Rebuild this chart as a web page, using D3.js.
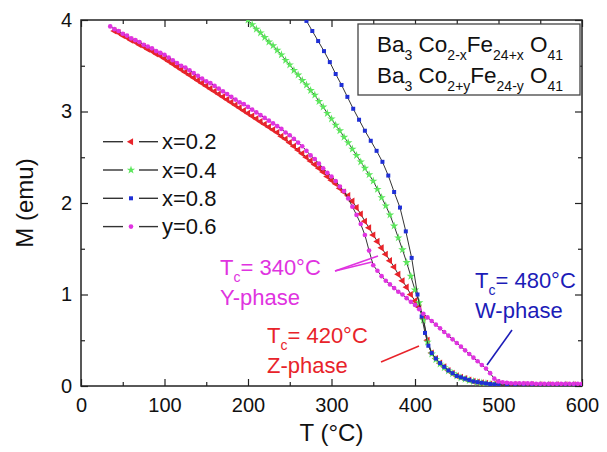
<!DOCTYPE html>
<html><head><meta charset="utf-8">
<script src="https://cdn.jsdelivr.net/npm/d3@7"></script>
<style>body{margin:0;background:#fff} svg text{font-family:"Liberation Sans",Arial,sans-serif}</style>
</head><body><svg id="c" width="607" height="452"></svg>
<script>
const xTicks=[0,100,200,300,400,500,600];
const xMinor=[50,150,250,350,450,550];
const yTicks=[0,1,2,3,4];
const yMinor=[0.5,1.5,2.5,3.5];
const seriesNames=["x=0.2","x=0.4","x=0.8","y=0.6"];
const seriesColors=["#e8232a","#5ce65c","#1f2fd6","#e033e0"];

const x02=[[40,3.88],[45,3.86],[50,3.83],[55,3.81],[60,3.78],[65,3.76],[70,3.73],[75,3.71],[80,3.68],[85,3.66],[90,3.63],[95,3.61],[100,3.58],[105,3.55],[110,3.52],[115,3.49],[120,3.46],[125,3.43],[130,3.40],[135,3.37],[140,3.34],[145,3.31],[150,3.28],[155,3.25],[160,3.22],[165,3.19],[170,3.16],[175,3.13],[180,3.10],[185,3.07],[190,3.04],[195,3.01],[200,2.98],[205,2.95],[210,2.92],[215,2.89],[220,2.86],[225,2.83],[230,2.80],[235,2.77],[240,2.73],[245,2.70],[250,2.66],[255,2.62],[260,2.58],[265,2.54],[270,2.50],[275,2.46],[280,2.42],[285,2.38],[290,2.34],[295,2.29],[300,2.25],[305,2.21],[310,2.16],[315,2.12],[320,2.08],[325,2.02],[330,1.95],[335,1.88],[340,1.80],[345,1.73],[350,1.65],[355,1.58],[360,1.51],[365,1.44],[370,1.37],[375,1.30],[380,1.22],[385,1.15],[390,1.08],[395,1.00],[400,0.93],[405,0.86],[410,0.74],[415,0.50],[420,0.36],[425,0.30],[430,0.25],[435,0.21],[440,0.17],[445,0.14],[450,0.11],[455,0.095],[460,0.08],[465,0.065],[470,0.05],[475,0.042],[480,0.035],[485,0.028],[490,0.022],[495,0.018],[500,0.015],[510,0.012],[520,0.012],[530,0.012],[540,0.012],[550,0.012],[560,0.012],[570,0.012],[580,0.012],[590,0.012],[600,0.012]];

const x04=[[200,4.00],[205,3.95],[210,3.90],[215,3.86],[220,3.81],[225,3.76],[230,3.72],[235,3.67],[240,3.62],[245,3.56],[250,3.51],[255,3.45],[260,3.40],[265,3.34],[270,3.29],[275,3.23],[280,3.18],[285,3.11],[290,3.05],[295,2.98],[300,2.92],[305,2.85],[310,2.79],[315,2.72],[320,2.66],[325,2.59],[330,2.52],[335,2.45],[340,2.38],[345,2.31],[350,2.24],[355,2.15],[360,2.06],[365,1.97],[370,1.87],[375,1.75],[380,1.62],[385,1.49],[390,1.35],[395,1.20],[400,1.05],[405,0.91],[410,0.72],[415,0.48],[420,0.35],[425,0.29],[430,0.24],[435,0.20],[440,0.165],[445,0.135],[450,0.11],[455,0.09],[460,0.075],[465,0.06],[470,0.05],[475,0.04],[480,0.033],[485,0.027],[490,0.021],[495,0.017],[500,0.014],[510,0.012],[520,0.012],[530,0.012],[540,0.012],[550,0.012],[560,0.012],[570,0.012],[580,0.012],[590,0.012],[600,0.012]];

const x08=[[270,3.99],[277,3.88],[284,3.77],[291,3.66],[298,3.54],[305,3.41],[312,3.29],[319,3.16],[326,3.03],[333,2.91],[340,2.79],[347,2.68],[354,2.57],[361,2.45],[368,2.30],[375,2.12],[382,1.95],[389,1.69],[396,1.40],[403,1.00],[408,0.76],[412,0.58],[416,0.44],[420,0.36],[425,0.30],[430,0.25],[435,0.21],[440,0.17],[445,0.14],[450,0.11],[455,0.095],[460,0.08],[465,0.065],[470,0.05],[475,0.042],[480,0.035],[485,0.028],[490,0.022],[495,0.018],[500,0.015],[510,0.012],[520,0.012],[530,0.012],[540,0.012],[550,0.012],[560,0.012],[570,0.012],[580,0.012],[590,0.012],[600,0.012]];

const y06=[[35,3.93],[40,3.90],[45,3.88],[50,3.85],[55,3.83],[60,3.80],[65,3.78],[70,3.76],[75,3.73],[80,3.71],[85,3.69],[90,3.66],[95,3.64],[100,3.62],[105,3.59],[110,3.56],[115,3.53],[120,3.50],[125,3.48],[130,3.45],[135,3.42],[140,3.39],[145,3.36],[150,3.33],[155,3.31],[160,3.28],[165,3.25],[170,3.22],[175,3.19],[180,3.16],[185,3.13],[190,3.10],[195,3.08],[200,3.05],[205,3.02],[210,2.99],[215,2.96],[220,2.93],[225,2.90],[230,2.87],[235,2.84],[240,2.81],[245,2.77],[250,2.74],[255,2.70],[260,2.66],[265,2.62],[270,2.57],[275,2.52],[280,2.48],[285,2.43],[290,2.38],[295,2.33],[300,2.29],[305,2.24],[310,2.18],[315,2.13],[320,2.05],[325,1.96],[330,1.87],[335,1.77],[340,1.65],[345,1.48],[350,1.32],[355,1.26],[360,1.20],[365,1.15],[370,1.11],[375,1.07],[380,1.03],[385,1.00],[390,0.96],[395,0.92],[400,0.885],[405,0.84],[410,0.79],[415,0.75],[420,0.71],[425,0.67],[430,0.63],[435,0.59],[440,0.55],[445,0.51],[450,0.47],[455,0.43],[460,0.39],[465,0.35],[470,0.31],[475,0.27],[480,0.23],[485,0.19],[490,0.14],[495,0.08],[500,0.05],[505,0.04],[510,0.035],[515,0.03],[520,0.03],[525,0.03],[530,0.028],[535,0.028],[540,0.028],[545,0.025],[550,0.025],[555,0.025],[560,0.025],[565,0.025],[570,0.025],[575,0.025],[580,0.025],[585,0.025],[590,0.025],[595,0.025],[600,0.025]];

const seriesData=[x02,x04,x08,y06];

const svg=d3.select("#c");
const L=81,R=582,T=20,B=386;
const x=d3.scaleLinear().domain([0,600]).range([L,R]);
const y=d3.scaleLinear().domain([0,4]).range([B,T]);
const ink="#222";

svg.append("defs").append("clipPath").attr("id","clip").append("rect")
  .attr("x",L).attr("y",T).attr("width",R-L).attr("height",B-T);

function styleAxis(g){
  g.select(".domain").remove();
  g.selectAll(".tick line").attr("stroke",ink).attr("stroke-width",1.2);
  g.selectAll("text").attr("font-size",20).attr("fill","#111");
}
svg.append("g").attr("transform",`translate(0,${B})`)
  .call(d3.axisBottom(x).tickValues(xTicks).tickSizeInner(-7).tickSizeOuter(0).tickPadding(12)).call(styleAxis);
svg.append("g").attr("transform",`translate(0,${B})`)
  .call(d3.axisBottom(x).tickValues(xMinor).tickSizeInner(-4).tickSizeOuter(0).tickFormat("")).call(styleAxis);
svg.append("g").attr("transform",`translate(0,${T})`)
  .call(d3.axisTop(x).tickValues(xTicks).tickSizeInner(-7).tickSizeOuter(0).tickFormat("")).call(styleAxis);
svg.append("g").attr("transform",`translate(0,${T})`)
  .call(d3.axisTop(x).tickValues(xMinor).tickSizeInner(-4).tickSizeOuter(0).tickFormat("")).call(styleAxis);
svg.append("g").attr("transform",`translate(${L},0)`)
  .call(d3.axisLeft(y).tickValues(yTicks).tickSizeInner(-7).tickSizeOuter(0).tickPadding(9).tickFormat(d3.format("d"))).call(styleAxis);
svg.append("g").attr("transform",`translate(${L},0)`)
  .call(d3.axisLeft(y).tickValues(yMinor).tickSizeInner(-4).tickSizeOuter(0).tickFormat("")).call(styleAxis);
svg.append("g").attr("transform",`translate(${R},0)`)
  .call(d3.axisRight(y).tickValues(yTicks).tickSizeInner(-7).tickSizeOuter(0).tickFormat("")).call(styleAxis);
svg.append("g").attr("transform",`translate(${R},0)`)
  .call(d3.axisRight(y).tickValues(yMinor).tickSizeInner(-4).tickSizeOuter(0).tickFormat("")).call(styleAxis);

svg.append("rect").attr("x",L).attr("y",T).attr("width",R-L).attr("height",B-T)
  .attr("fill","none").attr("stroke",ink).attr("stroke-width",1.5);

// axis titles
svg.append("text").attr("x",(L+R)/2).attr("y",441).attr("text-anchor","middle")
  .attr("font-size",24).attr("fill","#111").text("T (°C)");
svg.append("text").attr("transform",`translate(33,${(T+B)/2}) rotate(-90)`).attr("text-anchor","middle")
  .attr("font-size",24).attr("fill","#111").text("M (emu)");

// symbols
const symbols=[
  d3.symbol().type(d3.symbolTriangle).size(22),
  d3.symbol().type(d3.symbolStar).size(22),
  d3.symbol().type(d3.symbolSquare).size(16),
  d3.symbol().type(d3.symbolCircle).size(17)
];
const rot=[-90,0,0,0];

const line=d3.line().x(d=>x(d[0])).y(d=>y(d[1]));
const plot=svg.append("g").attr("clip-path","url(#clip)");
seriesData.forEach((data,i)=>{
  plot.append("path").datum(data).attr("d",line).attr("fill","none")
    .attr("stroke","#333").attr("stroke-width",1);
  plot.append("g").selectAll("path").data(data).join("path")
    .attr("d",symbols[i])
    .attr("transform",d=>`translate(${x(d[0])},${y(d[1])}) rotate(${rot[i]})`)
    .attr("fill",seriesColors[i]);
});

// legend
const lg=svg.append("g");
seriesNames.forEach((name,i)=>{
  const cy=141.7+i*28.3;
  lg.append("line").attr("x1",103).attr("x2",123).attr("y1",cy).attr("y2",cy).attr("stroke","#333").attr("stroke-width",1.4);
  lg.append("line").attr("x1",139).attr("x2",158).attr("y1",cy).attr("y2",cy).attr("stroke","#333").attr("stroke-width",1.4);
  lg.append("path").attr("d",symbols[i]).attr("transform",`translate(131,${cy}) rotate(${rot[i]})`).attr("fill",seriesColors[i]);
  lg.append("text").attr("x",162).attr("y",cy+7.5).attr("font-size",22).attr("fill","#111").text(name);
});

// formula box
svg.append("rect").attr("x",358).attr("y",24).attr("width",222).attr("height",71)
  .attr("fill","#fff").attr("stroke","#444").attr("stroke-width",1.3);
function formula(yb,parts){
  const t=svg.append("text").attr("x",377).attr("y",yb).attr("font-size",22.5).attr("fill","#111");
  parts.forEach(p=>{
    const s=t.append("tspan").text(p[0]);
    if(p[1]) s.attr("font-size",14).attr("dy",8); else s.attr("dy",p[2]||0);
  });
}
formula(52,[["Ba"],["3",1],[" Co",0,-8],["2-x",1],["Fe",0,-8],["24+x",1],[" O",0,-8],["41",1]]);
formula(83,[["Ba"],["3",1],[" Co",0,-8],["2+y",1],["Fe",0,-8],["24-y",1],[" O",0,-8],["41",1]]);

// annotations
function tc(xp,yb,color,val,phase){
  const t=svg.append("text").attr("x",xp).attr("y",yb).attr("font-size",22).attr("fill",color);
  t.append("tspan").text("T");
  t.append("tspan").attr("font-size",14).attr("dy",7).text("c");
  t.append("tspan").attr("dy",-7).text("= "+val+"°C");
  svg.append("text").attr("x",xp).attr("y",yb+30).attr("font-size",22).attr("fill",color).text(phase);
}
tc(220,275,"#e033e0","340","Y-phase");
tc(267,343,"#e8232a","420","Z-phase");
tc(475,288,"#1c1cb8","480","W-phase");

function arrow(x1,y1,x2,y2,color){
  svg.append("line").attr("x1",x1).attr("y1",y1).attr("x2",x2).attr("y2",y2)
    .attr("stroke",color).attr("stroke-width",1.6);
}
arrow(335,271,378,256,"#e033e0");
arrow(335,271,372,262,"#e033e0");
arrow(381,362,419,346,"#e8232a");
arrow(512,330,487,365,"#1c1cb8");
</script></body></html>
